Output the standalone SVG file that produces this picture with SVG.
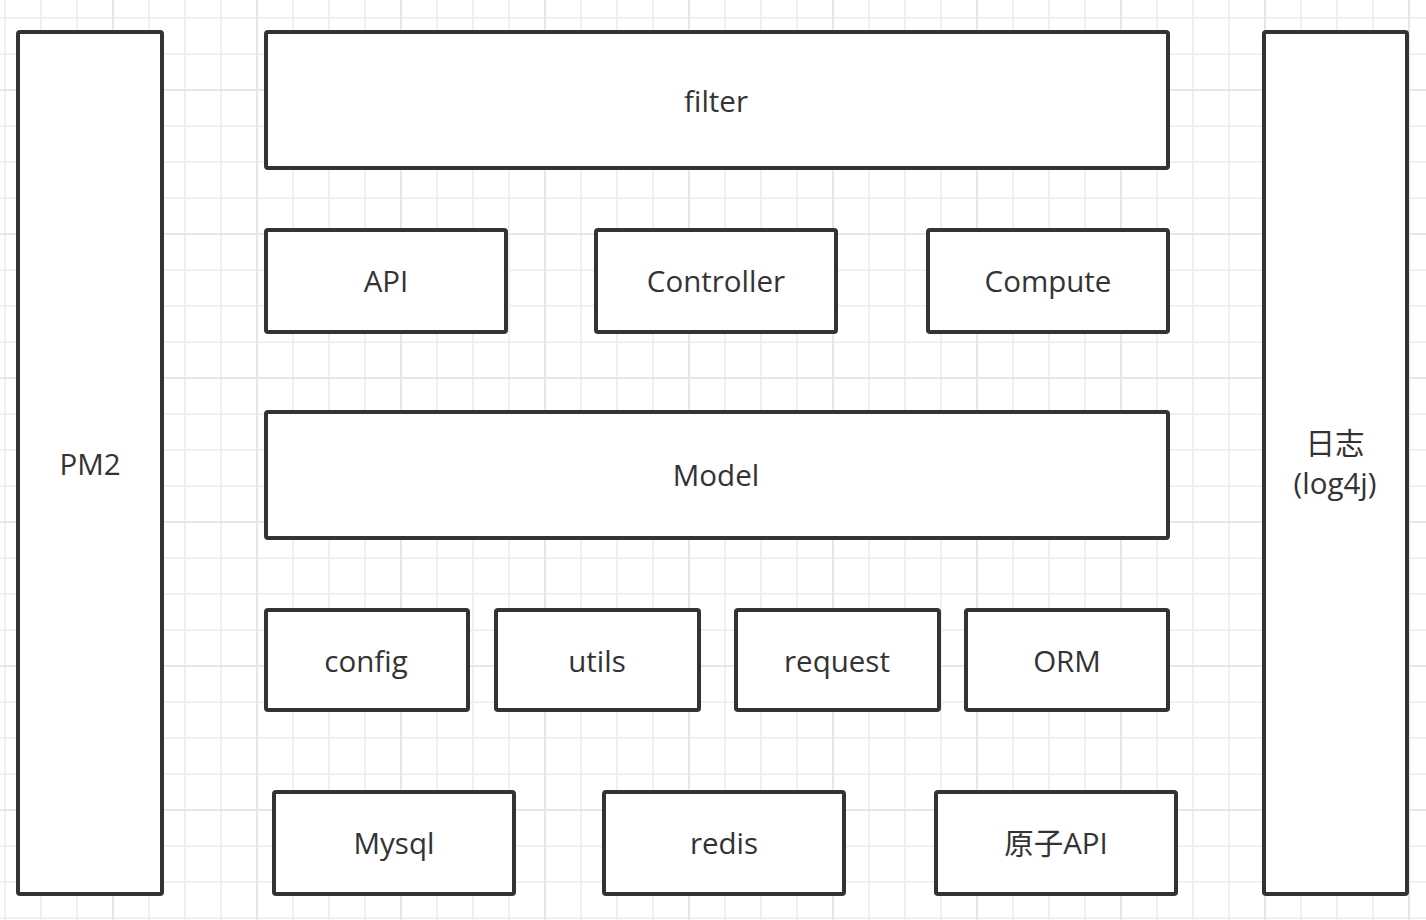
<svg xmlns="http://www.w3.org/2000/svg" width="1426" height="920" viewBox="0 0 1426 920">
<defs>
<pattern id="minor" patternUnits="userSpaceOnUse" x="4" y="17" width="36" height="36">
<path d="M0 1H36M1 0V36" stroke="#f0f0f0" stroke-width="2" fill="none"/>
</pattern>
<pattern id="major" patternUnits="userSpaceOnUse" x="112" y="89" width="144" height="144">
<path d="M0 1H144M1 0V144" stroke="#e6e6e6" stroke-width="2" fill="none"/>
</pattern>
</defs>
<style>
.box{fill:#ffffff;stroke:#333333;stroke-width:4;}
.lbl{font-family:"Open Sans","Liberation Sans","Noto Sans CJK SC",sans-serif;font-size:29.5px;fill:#333333;text-anchor:middle;}
</style>
<rect width="1426" height="920" fill="#ffffff"/>
<rect width="1426" height="920" fill="url(#minor)"/>
<rect width="1426" height="920" fill="url(#major)"/>
<g id="connectors"></g>
<g id="pm2"><rect class="box" x="18" y="32" width="144" height="862" rx="2"/><text class="lbl" x="90" y="475">PM2</text></g>
<g id="filter"><rect class="box" x="266" y="32" width="902" height="136" rx="2"/><text class="lbl" x="716" y="112">filter</text></g>
<g id="api"><rect class="box" x="266" y="230" width="240" height="102" rx="2"/><text class="lbl" x="386" y="292">API</text></g>
<g id="controller"><rect class="box" x="596" y="230" width="240" height="102" rx="2"/><text class="lbl" x="716" y="292">Controller</text></g>
<g id="compute"><rect class="box" x="928" y="230" width="240" height="102" rx="2"/><text class="lbl" x="1048" y="292">Compute</text></g>
<g id="model"><rect class="box" x="266" y="412" width="902" height="126" rx="2"/><text class="lbl" x="716" y="486">Model</text></g>
<g id="config"><rect class="box" x="266" y="610" width="202" height="100" rx="2"/><text class="lbl" x="366" y="672">config</text></g>
<g id="utils"><rect class="box" x="496" y="610" width="203" height="100" rx="2"/><text class="lbl" x="597" y="672">utils</text></g>
<g id="request"><rect class="box" x="736" y="610" width="203" height="100" rx="2"/><text class="lbl" x="837" y="672">request</text></g>
<g id="orm"><rect class="box" x="966" y="610" width="202" height="100" rx="2"/><text class="lbl" x="1067" y="672">ORM</text></g>
<g id="mysql"><rect class="box" x="274" y="792" width="240" height="102" rx="2"/><text class="lbl" x="394" y="854">Mysql</text></g>
<g id="redis"><rect class="box" x="604" y="792" width="240" height="102" rx="2"/><text class="lbl" x="724" y="854">redis</text></g>
<g id="atomapi"><rect class="box" x="936" y="792" width="240" height="102" rx="2"/><text class="lbl" x="1056" y="854">原子API</text></g>
<g id="log"><rect class="box" x="1264" y="32" width="143" height="862" rx="2"/><text class="lbl" x="1335" y="454">日志</text><text class="lbl" x="1335" y="494">(log4j)</text></g>
</svg>
